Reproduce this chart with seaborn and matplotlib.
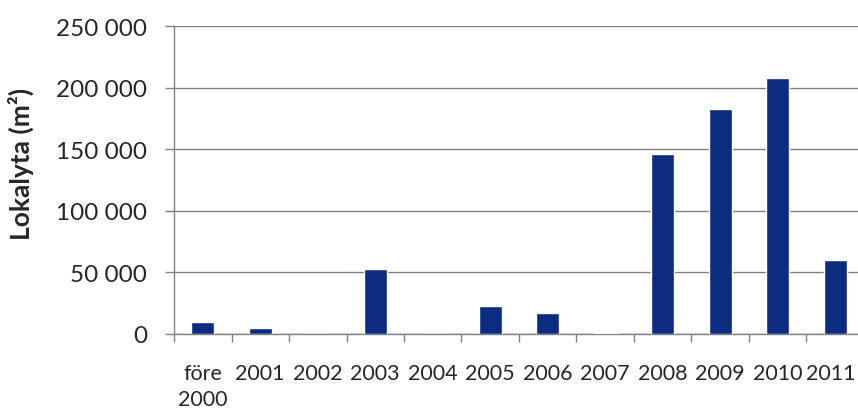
import matplotlib
matplotlib.use("Agg")
import matplotlib.pyplot as plt
import matplotlib.ticker as mticker
import matplotlib.transforms as mtransforms
import seaborn as sns
import pandas as pd
import numpy as np

categories = ["före\n2000", "2001", "2002", "2003", "2004", "2005", "2006",
              "2007", "2008", "2009", "2010", "2011"]
values = [10000, 5100, 0, 52900, 0, 22700, 16800, 1000, 146000, 182400, 207500, 59700]
y_ticks = [0, 50000, 100000, 150000, 200000, 250000]
y_label = "Lokalyta (m²)"

sns.set_theme(style="white")
plt.rcParams['font.family'] = ['Lato', 'DejaVu Sans']

df = pd.DataFrame({"cat": categories, "val": values})

fig = plt.figure(figsize=(8.58, 4.10), dpi=100)
ax = fig.add_axes([174/858, 75/410, 690/858, 308/410])

sns.barplot(data=df, x="cat", y="val", color="#0c2c80", width=0.4,
            saturation=1, ax=ax, zorder=3)

ax.set_ylim(0, 250000)
ax.set_xlim(-0.5, len(categories) - 0.5)
ax.set_yticks(y_ticks)
ax.yaxis.set_major_formatter(mticker.FuncFormatter(
    lambda v, p: f"{int(v):,}".replace(",", " ")))
ax.grid(axis="y", color="#808080", linewidth=1.0, zorder=0)
ax.set_axisbelow(True)

for s in ["top", "right"]:
    ax.spines[s].set_visible(False)
for s in ["left", "bottom"]:
    ax.spines[s].set_color("#808080")
    ax.spines[s].set_linewidth(1.0)

ax.tick_params(axis="y", which="major", left=True, length=6.5, width=1,
               color="#808080", pad=13, labelsize=17.5, labelcolor="#262626")
ax.set_xticks(np.arange(len(categories)))
ax.set_xticks(np.arange(len(categories) + 1) - 0.5, minor=True)
ax.tick_params(axis="x", which="major", bottom=False, length=0, pad=21,
               labelsize=15.5, labelcolor="#262626")
ax.tick_params(axis="x", which="minor", bottom=True, length=6, width=1,
               color="#808080")
ax.set_xticklabels(categories, linespacing=1.35, va="top")

# keep the last label inside the figure edge
last = ax.get_xticklabels()[-1]
last.set_transform(last.get_transform() +
                   mtransforms.ScaledTranslation(-4/100, 0, fig.dpi_scale_trans))

ax.set_xlabel("")
ax.set_ylabel(y_label, fontsize=19, fontweight="bold", color="#262626")
ax.yaxis.set_label_coords((34 - 174) / 690, (335 - 164) / 308)

fig.savefig("out.png", dpi=100)
